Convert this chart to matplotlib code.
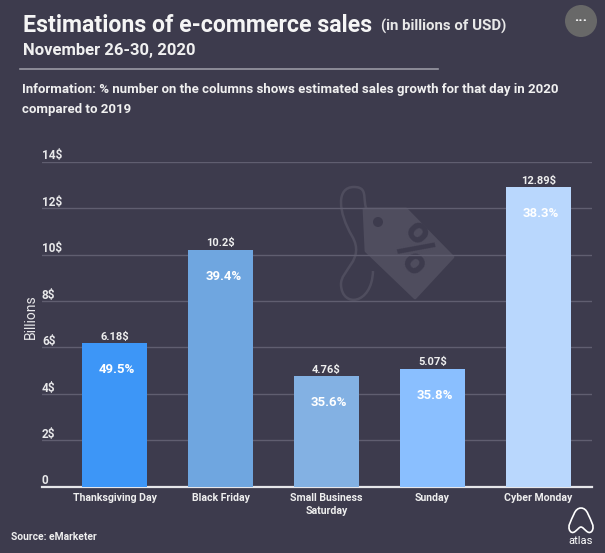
import matplotlib
matplotlib.use('Agg')
import matplotlib.pyplot as plt
from matplotlib.path import Path
from matplotlib.patches import PathPatch, Polygon, Circle

plt.rcParams['font.family'] = ['Roboto', 'DejaVu Sans']

# Data
categories = ['Thanksgiving Day', 'Black Friday', 'Small Business\nSaturday', 'Sunday', 'Cyber Monday']
sales = [6.18, 10.2, 4.76, 5.07, 12.89]
sales_labels = ['6.18$', '10.2$', '4.76$', '5.07$', '12.89$']
growth_labels = ['49.5%', '39.4%', '35.6%', '35.8%', '38.3%']
y_ticks = [0, 2, 4, 6, 8, 10, 12, 14]
y_tick_labels = ['0', '2$', '4$', '6$', '8$', '10$', '12$', '14$']
bar_colors = ['#3d96f7', '#6fa6e0', '#83b1e3', '#8abfff', '#b9d7fd']

bg = '#3d3b4d'
W, H = 605, 553

fig = plt.figure(figsize=(W / 100, H / 100), dpi=100, facecolor=bg)

# overlay in pixel coordinates for text and decoration
deco = fig.add_axes([0, 0, 1, 1], zorder=0)
deco.set_xlim(0, W)
deco.set_ylim(H, 0)
deco.axis('off')

# price tag watermark
tag_color = '#4f4d5e'
deco.add_patch(Polygon([(364, 209), (406, 209), (453, 257), (415, 298), (366, 251)],
                       closed=True, fc=tag_color, ec=tag_color, lw=2, joinstyle='round'))
deco.add_patch(Circle((378, 222), 5, fc=bg, ec='none'))
string = Path([(372, 217), (358, 205), (372, 187), (354, 187), (336, 187), (338, 212), (352, 236),
               (366, 260), (340, 270), (341, 285), (342, 308), (372, 305), (373, 271)],
              [Path.MOVETO] + [Path.CURVE4] * 12)
deco.add_patch(PathPatch(string, fc='none', ec=tag_color, lw=1.8))
deco.text(410, 253, '%', rotation=-47, color=bg, fontsize=43, fontweight='bold', ha='center', va='center')

# chart area
left, right, top, bottom = 42, 592, 161.7, 486.7
ax = fig.add_axes([left / W, 1 - bottom / H, (right - left) / W, (bottom - top) / H], zorder=1)
ax.patch.set_alpha(0)
x = list(range(len(categories)))
ax.bar(x, sales, width=65 / 106, color=bar_colors, zorder=3)
ax.set_xlim(-(114.5 - left) / 106, (right - 114.5) / 106)
ax.set_ylim(0, 14)

for s in ['top', 'right', 'left']:
    ax.spines[s].set_visible(False)
ax.spines['bottom'].set_color('#e6e6ea')
ax.spines['bottom'].set_linewidth(1.6)
ax.set_yticks(y_ticks)
ax.set_yticklabels([])
ax.tick_params(axis='y', length=0)
ax.grid(axis='y', color='#605e70', lw=1, zorder=1)
ax.set_axisbelow(True)
ax.set_xticks(x)
ax.set_xticklabels(categories, color='#eeeeee', fontsize=7.6, fontweight='bold', linespacing=1.35)
ax.tick_params(axis='x', length=0, pad=4.5)

for v, lab in zip(y_ticks, y_tick_labels):
    ax.annotate(lab, (0, v), xycoords=ax.get_yaxis_transform(), xytext=(0, -0.5), textcoords='offset points',
                color='#e8e8ea', fontsize=8.5, fontweight='bold', ha='left', va='bottom')

for i in x:
    ax.annotate(sales_labels[i], (i, sales[i]), xytext=(0, 1.2), textcoords='offset points',
                color='#eeeeee', fontsize=8, fontweight='bold', ha='center', va='bottom')
    ax.annotate(growth_labels[i], (i, sales[i]), xytext=(2, -19), textcoords='offset points',
                color='white', fontsize=9.5, fontweight='bold', ha='center', va='center', zorder=5)

# titles
deco.text(23, 25, 'Estimations of e-commerce sales', color='#f5f5f5', fontsize=16.7, fontweight='bold', va='center')
deco.text(381, 26.5, '(in billions of USD)', color='#e8e8e8', fontsize=10.8, fontweight='bold', va='center')
deco.text(23, 50, 'November 26-30, 2020', color='#f0f0f0', fontsize=12, fontweight='bold', va='center')
deco.plot([20, 438], [69, 69], color='#9a99a4', lw=1.2)
deco.text(22, 89.5, 'Information: % number on the columns shows estimated sales growth for that day in 2020',
          color='#f0f0f0', fontsize=9.55, fontweight='bold', va='center')
deco.text(22, 110, 'compared to 2019', color='#f0f0f0', fontsize=9.55, fontweight='bold', va='center')
deco.text(30.5, 316.5, 'Billions', color='#e8e8ea', fontsize=10, rotation=90, ha='center', va='center')
deco.text(11, 537, 'Source: eMarketer', color='#eeeeee', fontsize=7.4, fontweight='bold', va='center')

# menu button
deco.add_patch(Circle((581, 21), 16, fc='#686868', ec='none'))
deco.text(581, 17, '...', color='white', fontsize=11, fontweight='bold', ha='center', va='center')

# atlas logo
logo = Path([(570, 531), (567, 526), (571, 521), (574, 514), (577, 506), (585, 506), (588, 514),
             (591, 521), (595, 526), (592, 531), (588, 536), (584, 527), (581, 527),
             (578, 527), (574, 536), (570, 531)],
            [Path.MOVETO] + [Path.CURVE4] * 15)
deco.add_patch(PathPatch(logo, fc='none', ec='white', lw=1.2))
deco.text(581, 541, 'atlas', color='white', fontsize=8, ha='center', va='center')

fig.savefig('out.png', dpi=100, facecolor=bg)
